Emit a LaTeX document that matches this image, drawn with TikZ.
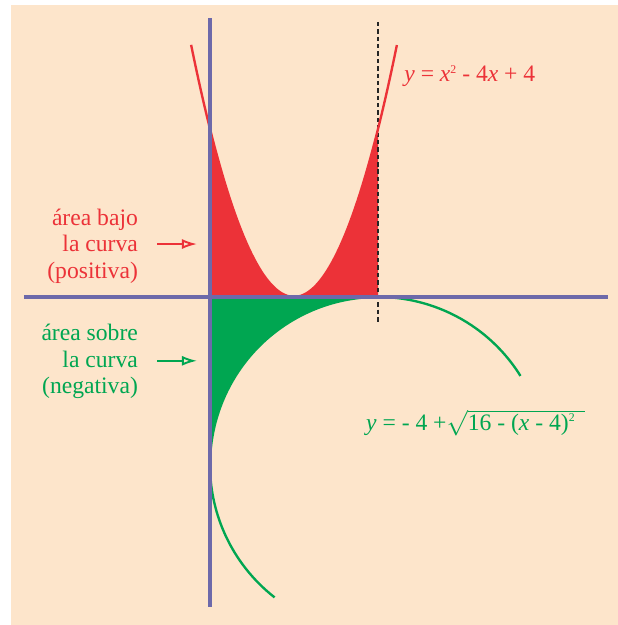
\documentclass[tikz,border=0pt]{standalone}
\usepackage{fontspec}
\setmainfont{Liberation Serif}
\usetikzlibrary{arrows.meta}
\definecolor{Peach}{HTML}{FDE5CB}
\definecolor{AxisBlue}{HTML}{6D69AA}
\definecolor{CurveRed}{HTML}{EC3238}
\definecolor{CurveGreen}{HTML}{00A651}
\newcommand{\sq}{\raisebox{0.75ex}{\fontsize{8}{8}\selectfont 2}}

\begin{document}
\begin{tikzpicture}[
  axis/.style={draw=AxisBlue, line width=2.2pt},
  parabola/.style={draw=CurveRed, line width=1.6pt},
  halfcircle/.style={draw=CurveGreen, line width=1.6pt},
  marker/.style={draw=black!85, line width=0.8pt, dash pattern=on 3pt off 2pt},
  note/.style={align=right, anchor=east, inner sep=0pt, font=\fontsize{16}{18}\selectfont},
  formula/.style={anchor=base west, inner sep=0pt, font=\fontsize{16}{19}\selectfont},
  pointer/.style={-{Latex[open,length=3.6mm,width=2.4mm]}, line width=1.3pt}
]
  \useasboundingbox (-5.0,-7.81) rectangle (9.71,7.07);
  \fill[Peach] (-4.74,-7.81) rectangle (9.71,6.95);

  \fill[CurveRed] (0,0) -- plot[domain=0:4, samples=60] (\x,{(\x-2)^2}) -- (4,0) -- cycle;
  \fill[CurveGreen] (0,0) -- (0,-4) arc[start angle=180, end angle=90, radius=4] -- cycle;

  \draw[marker] (4,6.55) -- (4,-0.65);
  \draw[parabola] plot[domain=-0.45:4.45, samples=80] (\x,{(\x-2)^2});
  \draw[halfcircle] (7.392,-1.880) arc[start angle=32, end angle=232, radius=4];

  \draw[axis] (-4.43,0) -- (9.48,0);
  \draw[axis] (0,6.64) -- (0,-7.38);

  \node[note, text=CurveRed] (bajo) at (-1.71,1.21) {área bajo\\la curva\\(positiva)};
  \node[note, text=CurveGreen] (sobre) at (-1.71,-1.54) {área sobre\\la curva\\(negativa)};

  \coordinate (bajotail) at (-1.26,1.26);
  \coordinate (bajotip) at (-0.31,1.26);
  \coordinate (sobretail) at (-1.26,-1.52);
  \coordinate (sobretip) at (-0.31,-1.52);
  \draw[pointer, draw=CurveRed] (bajotail) -- (bajotip);
  \draw[pointer, draw=CurveGreen] (sobretail) -- (sobretip);

  \node[formula, text=CurveRed] (parabeq) at (4.62,5.13)
    {\textit{y} = \textit{x}\sq{} - 4\textit{x} + 4};
  \node[formula, text=CurveGreen] (circeq) at (3.71,-3.17)
    {\textit{y} = - 4 +$\sqrt{\mbox{16 - (\textit{x} - 4)\sq\hspace{0.25cm}}}$};
\end{tikzpicture}
\end{document}
